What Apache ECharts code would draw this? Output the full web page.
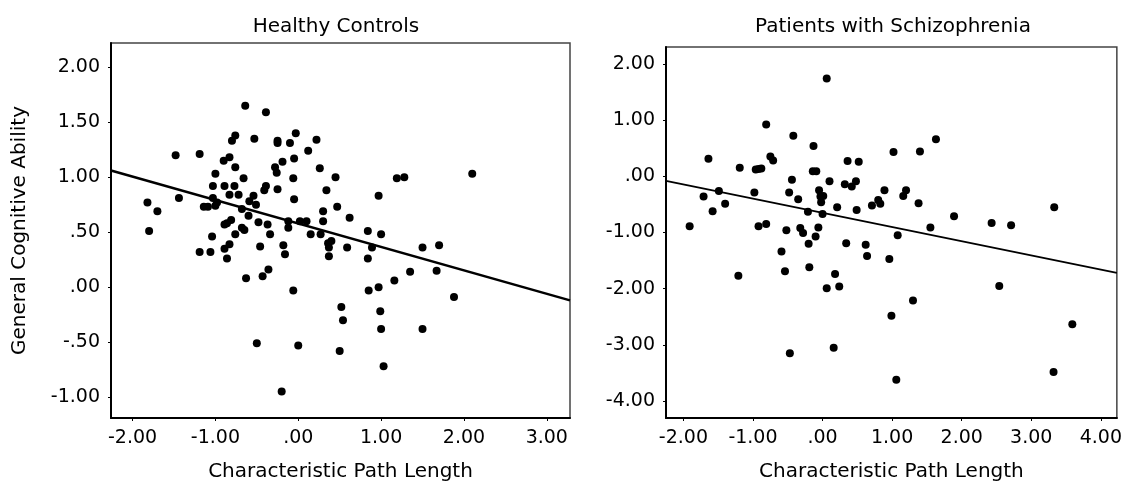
<!DOCTYPE html>
<html>
<head>
<meta charset="utf-8">
<script src="https://cdn.jsdelivr.net/npm/echarts@6/dist/echarts.min.js"></script>
<style>
  html, body { margin: 0; padding: 0; background: #fff; }
  #chart { width: 1125px; height: 487px; }
</style>
</head>
<body>
<div id="chart"></div>
<script>
// Healthy controls: characteristic path length vs general cognitive ability
const hcPathLength = [-1.82, -1.80, -1.70, -1.48, -1.44, -1.19, -1.19, -1.14, -1.06, -1.04, -1.03, -1.03, -1.00, -1.00, -1.09, -0.98,
  -0.90, -0.89, -0.89, -0.89, -0.86, -0.83, -0.83, -0.83, -0.81, -0.86, -0.80, -0.76, -0.76, -0.77, -0.76, -0.72, -0.68, -0.68,
  -0.66, -0.65, -0.64, -0.63, -0.60, -0.59, -0.54, -0.53, -0.51, -0.50, -0.48, -0.46, -0.43, -0.41, -0.39, -0.39, -0.37, -0.36,
  -0.34, -0.28, -0.26, -0.25, -0.25, -0.25, -0.20, -0.19, -0.18, -0.16, -0.12, -0.12, -0.10, -0.06, -0.06, -0.05, -0.05, -0.03,
  0.00, 0.02, 0.10, 0.12, 0.15, 0.22, 0.26, 0.27, 0.30, 0.30, 0.34, 0.36, 0.37, 0.37, 0.40, 0.45, 0.47, 0.50, 0.52, 0.54, 0.59,
  0.62, 0.84, 0.84, 0.85, 0.89, 0.97, 0.97, 0.99, 1.00, 1.00, 1.03, 1.16, 1.19, 1.28, 1.35, 1.50, 1.50, 1.67, 1.70, 1.88, 2.10];
const hcCognition = [0.77, 0.51, 0.69, 1.20, 0.81, 1.21, 0.32, 0.73, 0.32, 0.46, 0.92, 0.81, 1.03, 0.74, 0.73, 0.77,
  1.15, 0.92, 0.57, 0.35, 0.26, 0.39, 1.18, 0.84, 0.61, 0.58, 1.33, 1.38, 1.09, 0.92, 0.48, 0.84, 0.71, 0.54,
  0.99, 0.52, 1.65, 0.08, 0.65, 0.78, 0.83, 1.35, 0.75, -0.51, 0.59, 0.37, 0.10, 0.88, 0.92, 1.59, 0.57, 0.16,
  0.48, 1.09, 1.04, 0.89, 1.31, 1.33, -0.95, 1.14, 0.38, 0.30, 0.60, 0.54, 1.31, -0.03, 0.99, 1.17, 0.80, 1.40,
  -0.53, 0.60, 0.60, 1.24, 0.48, 1.34, 1.08, 0.48, 0.69, 0.60, 0.88, 0.40, 0.36, 0.28, 0.42, 1.00, 0.73, -0.58, -0.18, -0.30, 0.36,
  0.63, 0.51, 0.26, -0.03, 0.36, 0.83, 0.00, -0.22, -0.38, 0.48, -0.72, 0.06, 0.99, 1.00, 0.14, 0.36, -0.38, 0.15, 0.38, -0.09, 1.03];

// Patients with schizophrenia
const szPathLength = [-1.91, -1.71, -1.64, -1.58, -1.49, -1.40, -1.21, -1.19, -0.98, -0.96, -0.92, -0.92, -0.88, -0.81, -0.81,
  -0.75, -0.71, -0.59, -0.54, -0.52, -0.48, -0.47, -0.44, -0.42, -0.35, -0.32, -0.28, -0.21, -0.20, -0.19, -0.13, -0.14,
  -0.09, -0.10, -0.06, -0.05, -0.03, -0.02, 0.00, 0.01, 0.06, 0.06, 0.10, 0.16, 0.18, 0.21, 0.24, 0.32, 0.34, 0.36, 0.42,
  0.48, 0.49, 0.52, 0.62, 0.64, 0.71, 0.80, 0.83, 0.89, 0.96, 0.99, 1.02, 1.06, 1.08, 1.16, 1.20, 1.30, 1.38, 1.40, 1.55,
  1.63, 1.89, 2.43, 2.54, 2.71, 3.33, 3.32, 3.59];
const szCognition = [-0.89, -0.36, 0.31, -0.62, -0.26, -0.49, -1.77, 0.15, -0.29, 0.12, -0.89, 0.13, 0.14, -0.85, 0.92,
  0.35, 0.28, -1.34, -1.69, -0.96, -0.29, -3.15, -0.06, 0.72, -0.41, -0.92, -1.01, -0.63, -1.20, -1.62, 0.54, 0.09,
  0.09, -1.07, -0.91, -0.25, -0.36, -0.46, -0.67, -0.35, 1.74, -1.99, -0.09, -3.05, -1.74, -0.55, -1.96, -0.14, -1.19, 0.27, -0.18,
  -0.09, -0.60, 0.26, -1.22, -1.42, -0.52, -0.42, -0.49, -0.25, -1.47, -2.48, 0.43, -3.62, -1.05, -0.35, -0.25, -2.21, -0.48, 0.44, -0.91,
  0.66, -0.71, -0.83, -1.95, -0.87, -0.55, -3.48, -2.63];

// fit lines, read at the left and right edges of each plot
const hcFitX = [-2.26, 3.28];
const hcFitY = [1.06, -0.12];
const szFitX = [-2.25, 4.23];
const szFitY = [-0.08, -1.72];

const hcXTicks = [-2, -1, 0, 1, 2, 3];
const hcYTicks = [-1, -0.5, 0, 0.5, 1, 1.5, 2];
const szXTicks = [-2, -1, 0, 1, 2, 3, 4];
const szYTicks = [-4, -3, -2, -1, 0, 1, 2];

const font = "DejaVu Sans";
const pairs = (xs, ys) => xs.map((x, i) => [x, ys[i]]);
// SPSS style: 0.50 -> .50, -0.50 -> -.50
const fmt = (v) => Number(v).toFixed(2).replace(/^(-?)0\./, "$1.");
const nameStyle = { fontFamily: font, fontSize: 20, color: "#000" };

function valueAxis(gridIndex, min, max, ticks, extra) {
  return Object.assign({
    type: "value",
    gridIndex: gridIndex,
    min: min,
    max: max,
    splitLine: { show: false },
    axisLine: { show: true, onZero: false, lineStyle: { color: "#000", width: 2 } },
    axisTick: { show: true, customValues: ticks, length: 3, lineStyle: { color: "#000" } },
    axisLabel: { customValues: ticks, formatter: fmt, color: "#000", fontFamily: font, fontSize: 19, margin: 11 },
  }, extra || {});
}

const chart = echarts.init(document.getElementById("chart"));
chart.setOption({
  backgroundColor: "#fff",
  animation: false,
  title: [
    { text: "Healthy Controls", left: 331, top: 12, textAlign: "center",
      textStyle: { fontFamily: font, fontSize: 20, fontWeight: "normal", color: "#000" } },
    { text: "Patients with Schizophrenia", left: 888, top: 12, textAlign: "center",
      textStyle: { fontFamily: font, fontSize: 20, fontWeight: "normal", color: "#000" } },
  ],
  grid: [
    { left: 111, right: 555, top: 43, bottom: 64, show: true, borderColor: "#444", borderWidth: 1.5 },
    { left: 666, right: 4, top: 47, bottom: 64, show: true, borderColor: "#444", borderWidth: 1.5 },
  ],
  xAxis: [
    valueAxis(0, -2.26, 3.28, hcXTicks, {
      name: "Characteristic Path Length", nameLocation: "middle", nameGap: 44, nameTextStyle: nameStyle,
    }),
    valueAxis(1, -2.25, 4.23, szXTicks, {
      name: "Characteristic Path Length", nameLocation: "middle", nameGap: 44, nameTextStyle: nameStyle,
    }),
  ],
  yAxis: [
    valueAxis(0, -1.19, 2.22, hcYTicks, {
      name: "General Cognitive Ability", nameLocation: "middle", nameGap: 81, nameTextStyle: nameStyle,
    }),
    valueAxis(1, -4.3, 2.3, szYTicks),
  ],
  series: [
    { type: "scatter", xAxisIndex: 0, yAxisIndex: 0, symbolSize: 8,
      itemStyle: { color: "#000", opacity: 1 }, data: pairs(hcPathLength, hcCognition) },
    { type: "line", xAxisIndex: 0, yAxisIndex: 0, showSymbol: false,
      lineStyle: { color: "#000", width: 2.5 }, data: pairs(hcFitX, hcFitY) },
    { type: "scatter", xAxisIndex: 1, yAxisIndex: 1, symbolSize: 8,
      itemStyle: { color: "#000", opacity: 1 }, data: pairs(szPathLength, szCognition) },
    { type: "line", xAxisIndex: 1, yAxisIndex: 1, showSymbol: false,
      lineStyle: { color: "#000", width: 1.8 }, data: pairs(szFitX, szFitY) },
  ],
});
</script>
</body>
</html>
